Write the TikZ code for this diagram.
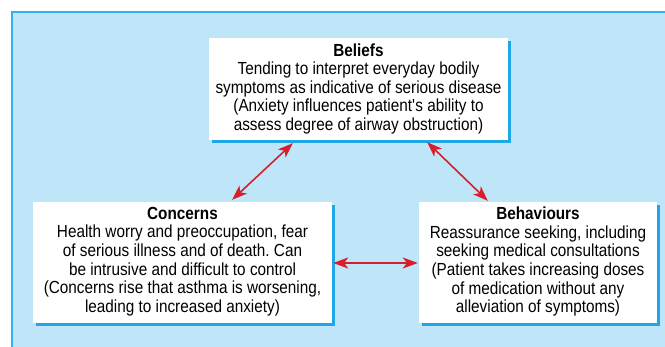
\documentclass[tikz,border=0pt]{standalone}
\usepackage{fontspec}
\setmainfont{Liberation Sans}[FakeStretch=0.875]
\usetikzlibrary{arrows.meta,shadows}
\definecolor{bgblue}{HTML}{BEE5F8}
\definecolor{lineblue}{HTML}{3AADEA}
\definecolor{shblue}{HTML}{1FA6E6}
\definecolor{arrred}{HTML}{D71F2B}
\frenchspacing
\begin{document}
\begin{tikzpicture}[x=1pt,y=1pt,
  box/.style={draw=none,fill=white,inner sep=0,drop shadow={shadow xshift=3pt,shadow yshift=-3pt,fill=shblue,opacity=1}},
  boxtext/.style={anchor=north,align=center,inner sep=0,font=\fontsize{17.5}{18.6}\selectfont},
  link/.style={draw=arrred,line width=1.6pt,{Stealth[length=15pt,width=11pt,inset=4pt]}-{Stealth[length=15pt,width=11pt,inset=4pt]}}]
\useasboundingbox (0,0) rectangle (665,347);
\fill[bgblue] (12,0) rectangle (665,335);
\draw[lineblue,line width=1.2pt] (12,0) -- (12,335) -- (665,335);

\node[box,minimum width=299pt,minimum height=102pt] (beliefs) at (358.5,258) {};
\node[box,minimum width=299pt,minimum height=121pt] (concerns) at (182.5,84.5) {};
\node[box,minimum width=238pt,minimum height=121pt] (behaviours) at (538,84.5) {};

\node[boxtext] (beliefstext) at ([yshift=-5.5pt]beliefs.north) {\textbf{Beliefs}\\Tending to interpret everyday bodily\\symptoms as indicative of serious disease\\(Anxiety influences patient\textquotesingle s ability to\\assess degree of airway obstruction)};
\node[boxtext] (concernstext) at ([yshift=-5pt]concerns.north) {\textbf{Concerns}\\Health worry and preoccupation, fear\\of serious illness and of death. Can\\be intrusive and difficult to control\\(Concerns rise that asthma is worsening,\\leading to increased anxiety)};
\node[boxtext] (behaviourstext) at ([yshift=-5pt]behaviours.north) {\textbf{Behaviours}\\Reassurance seeking, including\\seeking medical consultations\\(Patient takes increasing doses\\of medication without any\\alleviation of symptoms)};

\draw[link] ([xshift=84pt,yshift=-3pt]beliefs.south west) -- ([xshift=-100pt,yshift=2pt]concerns.north east);
\draw[link] ([xshift=-81pt,yshift=-2pt]beliefs.south east) -- ([xshift=69pt,yshift=1pt]behaviours.north west);
\draw[link] ([xshift=1pt,yshift=-0.5pt]concerns.east) -- ([xshift=-1pt,yshift=-0.5pt]behaviours.west);
\end{tikzpicture}
\end{document}
